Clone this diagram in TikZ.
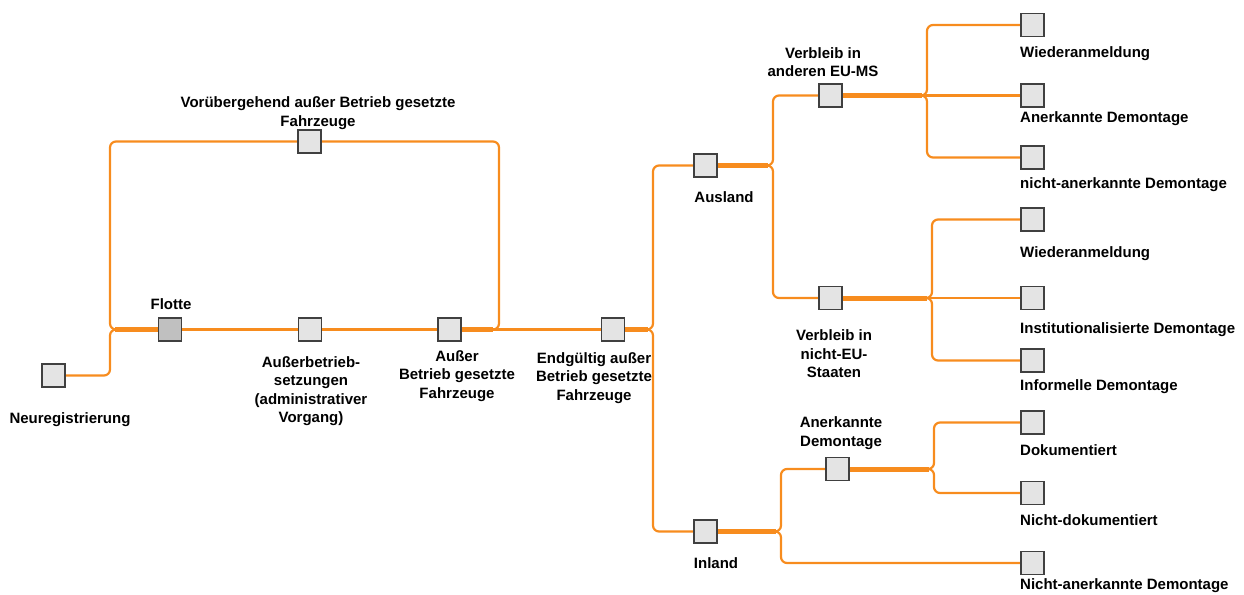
\documentclass[tikz,border=0pt]{standalone}
\usepackage{fontspec}
\setmainfont{Liberation Sans}
\usetikzlibrary{positioning, backgrounds}
\definecolor{floworange}{RGB}{247,140,30}
\definecolor{boxgray}{RGB}{228,228,228}
\definecolor{boxdark}{RGB}{192,192,192}
\tikzset{
	box/.style={draw=black!75, line width=1.2pt, fill=boxgray, minimum size=23pt, inner sep=0pt},
	flow/.style={draw=floworange, line width=2.2pt, rounded corners=6pt},
	bigflow/.style={draw=floworange, line width=5pt},
	lbl/.style={font=\fontsize{15}{18.5}\selectfont\bfseries, align=center, inner sep=0pt},
	lblr/.style={lbl, anchor=west, align=left}
}

\begin{document}
\begin{tikzpicture}[x=1pt, y=-1pt]
		\useasboundingbox (0,0) rectangle (1244,594);

		% boxes
		\node[box] (nr) at (53.5,375.5) {};
		\node[box, fill=boxdark] (fl) at (170,329.5) {};
		\node[box] (vo) at (309.5,141.5) {};
		\node[box] (as) at (310,329.5) {};
		\node[box] (ab) at (449.5,329.5) {};
		\node[box] (eg) at (613,329.5) {};
		\node[box] (al) at (705.5,165.5) {};
		\node[box] (eu) at (830.5,95.5) {};
		\node[box] (ne) at (830.5,298) {};
		\node[box] (il) at (705.5,531.5) {};
		\node[box] (ad) at (837.5,469) {};
		\node[box] (w1) at (1032.5,25) {};
		\node[box] (a1) at (1032.5,95.5) {};
		\node[box] (n1) at (1032.5,157.5) {};
		\node[box] (w2) at (1032.5,219.5) {};
		\node[box] (i2) at (1032.5,298) {};
		\node[box] (f2) at (1032.5,360.5) {};
		\node[box] (dk) at (1032.5,422.5) {};
		\node[box] (nd) at (1032.5,493) {};
		\node[box] (na) at (1032.5,563) {};

		% labels
		\node[lbl] (nrl) at (70,420) {Neuregistrierung};
		\node[lbl] (fll) at (171,304) {Flotte};
		\node[lbl] (vol) at (318,113) {Vorübergehend außer Betrieb gesetzte\\Fahrzeuge};
		\node[lbl] (asl) at (311,391) {Außerbetrieb-\\setzungen\\(administrativer\\Vorgang)};
		\node[lbl] (abl) at (457,376) {Außer\\Betrieb gesetzte\\Fahrzeuge};
		\node[lbl] (egl) at (594,378) {Endgültig außer\\Betrieb gesetzte\\Fahrzeuge};
		\node[lbl] (all) at (724,197) {Ausland};
		\node[lbl] (eul) at (823,62) {Verbleib in\\anderen EU-MS};
		\node[lbl] (nel) at (834,354) {Verbleib in\\nicht-EU-\\Staaten};
		\node[lbl] (ill) at (716,563) {Inland};
		\node[lbl] (adl) at (841,433) {Anerkannte\\Demontage};
		\node[lblr] (w1l) at (1020,54) {Wiederanmeldung};
		\node[lblr] (a1l) at (1020,119) {Anerkannte Demontage};
		\node[lblr] (n1l) at (1020,185) {nicht-anerkannte Demontage};
		\node[lblr] (w2l) at (1020,254) {Wiederanmeldung};
		\node[lblr] (i2l) at (1020,330) {Institutionalisierte Demontage};
		\node[lblr] (f2l) at (1020,387) {Informelle Demontage};
		\node[lblr] (dkl) at (1020,450) {Dokumentiert};
		\node[lblr] (ndl) at (1020,520) {Nicht-dokumentiert};
		\node[lblr] (nal) at (1020,586) {Nicht-anerkannte Demontage};

		% junctions
		\coordinate (jfl) at (110,329.5);
		\coordinate (jab) at (499,329.5);
		\coordinate (jeg) at (653,329.5);
		\coordinate (jal) at (773,165.5);
		\coordinate (jeu) at (927,95.5);
		\coordinate (jne) at (932,298);
		\coordinate (jil) at (781,531.5);
		\coordinate (jad) at (934,469);

		% flows, behind the boxes
		\begin{scope}[on background layer]
		\draw[flow] (nr.east) -| (jfl) -- (fl.west);
		\draw[flow] (vo.west) -| (jfl) -- (fl.west);
		\draw[bigflow] ([xshift=5pt]jfl) -- (fl.west);
		\draw[flow] (fl) -- (as);
		\draw[flow] (as) -- (ab);
		\draw[flow] (ab) -- (eg);
		\draw[flow] (ab.east) -- (jab) |- (vo.east);
		\draw[bigflow] (ab.east) -- ([xshift=-6pt]jab);

		\draw[flow] (eg.east) -- (jeg) |- (al.west);
		\draw[flow] (eg.east) -- (jeg) |- (il.west);
		\draw[bigflow] (eg.east) -- ([xshift=-5pt]jeg);

		\draw[flow] (al.east) -- (jal) |- (eu.west);
		\draw[flow] (al.east) -- (jal) |- (ne.west);
		\draw[bigflow] (al.east) -- ([xshift=-5pt]jal);

		\draw[flow] (eu.east) -- (jeu) |- (w1.west);
		\draw[flow] (eu.east) -- (jeu) |- (n1.west);
		\draw[flow] (eu) -- (a1);
		\draw[bigflow] (eu.east) -- ([xshift=-5pt]jeu);

		\draw[flow] (ne.east) -- (jne) |- (w2.west);
		\draw[flow] (ne.east) -- (jne) |- (f2.west);
		\draw[flow] (ne) -- (i2);
		\draw[bigflow] (ne.east) -- ([xshift=-5pt]jne);

		\draw[flow] (il.east) -- (jil) |- (ad.west);
		\draw[flow] (il.east) -- (jil) |- (na.west);
		\draw[bigflow] (il.east) -- ([xshift=-5pt]jil);

		\draw[flow] (ad.east) -- (jad) |- (dk.west);
		\draw[flow] (ad.east) -- (jad) |- (nd.west);
		\draw[bigflow] (ad.east) -- ([xshift=-5pt]jad);
		\end{scope}
	\end{tikzpicture}
\end{document}
